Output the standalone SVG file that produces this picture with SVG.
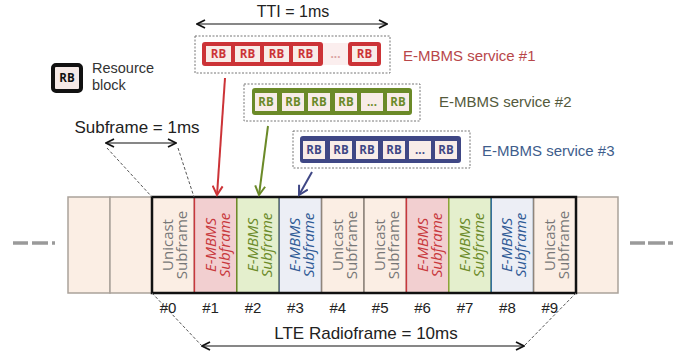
<svg xmlns="http://www.w3.org/2000/svg" width="682" height="356" viewBox="0 0 682 356">
<defs>
<marker id="ah" markerWidth="10" markerHeight="10" refX="9" refY="5" orient="auto-start-reverse" markerUnits="userSpaceOnUse"><path d="M1,1 L9,5 L1,9" fill="none" stroke="#111" stroke-width="1.8"/></marker>
<marker id="ahr" markerWidth="12" markerHeight="12" refX="10" refY="6" orient="auto" markerUnits="userSpaceOnUse"><path d="M1,1 L10,6 L1,11" fill="none" stroke="#cc3337" stroke-width="2"/></marker>
<marker id="ahg" markerWidth="12" markerHeight="12" refX="10" refY="6" orient="auto" markerUnits="userSpaceOnUse"><path d="M1,1 L10,6 L1,11" fill="none" stroke="#6b8a28" stroke-width="2"/></marker>
<marker id="ahb" markerWidth="12" markerHeight="12" refX="10" refY="6" orient="auto" markerUnits="userSpaceOnUse"><path d="M1,1 L10,6 L1,11" fill="none" stroke="#3f4785" stroke-width="2"/></marker>
</defs>
<style>
.t{font-family:"Liberation Sans",Arial,sans-serif;fill:#222}
.os{font-family:"Open Sans","Noto Sans",sans-serif}
.rb{font-family:"Open Sans","Liberation Sans",sans-serif;font-weight:bold;font-size:11.5px;text-anchor:middle}
.cell{fill:#f8ece8}
.dash{fill:none;stroke:#9a9a9a;stroke-width:3.5}
.proj{fill:none;stroke:#555;stroke-width:1;stroke-dasharray:3 2}
.dbox{fill:#fff;stroke:#777;stroke-width:1;stroke-dasharray:2 1.5}
.uc{fill:#fbeee4;stroke:#8f857c;stroke-width:1.5}
.ext{fill:#fbeee4;stroke:#aaa29a;stroke-width:1.5}
.st{font-size:15px;text-anchor:middle}
.lab{font-family:"Liberation Sans",Arial,sans-serif;font-size:15px;fill:#222;text-anchor:middle}
</style>
<rect width="682" height="356" fill="#fff"/>

<g id="legend">
<rect x="53" y="65" width="28" height="26" rx="3" fill="#f5e9e6" stroke="#111" stroke-width="4"/>
<text x="67" y="82" class="rb" fill="#111">RB</text>
<text x="92" y="73" class="t" font-size="14.5" style="fill:#333">Resource</text>
<text x="92" y="90" class="t" font-size="14.5" style="fill:#333">block</text>
</g>

<g id="tti">
<text x="293" y="17" class="t" font-size="16" text-anchor="middle">TTI = 1ms</text>
</g>

<g id="service1">
<rect x="195" y="36" width="195" height="37" class="dbox"/>
<rect x="202" y="42" width="121" height="24" rx="3" fill="#cc3337"/>
<rect x="323" y="43" width="25" height="22" fill="#fbeeee"/>
<rect x="348" y="42" width="33" height="24" rx="3" fill="#cc3337"/>
<g fill="#cc3337">
<rect x="206" y="46" width="25" height="16" class="cell"/><text x="218.5" y="58" class="rb">RB</text>
<rect x="235" y="46" width="25" height="16" class="cell"/><text x="247.5" y="58" class="rb">RB</text>
<rect x="264" y="46" width="25" height="16" class="cell"/><text x="276.5" y="58" class="rb">RB</text>
<rect x="293" y="46" width="25" height="16" class="cell"/><text x="305.5" y="58" class="rb">RB</text>
<text x="335.5" y="58" class="rb" fill="#d9a0a0">...</text>
<rect x="352" y="46" width="25" height="16" class="cell"/><text x="364.5" y="58" class="rb">RB</text>
</g>
<text x="403" y="61" class="t" font-size="15" style="fill:#b8474a">E-MBMS service #1</text>
</g>

<g id="service2">
<rect x="244" y="84" width="176" height="37" class="dbox"/>
<rect x="252" y="88" width="160" height="27" rx="3" fill="#6b8a28"/>
<g fill="#6b8a28">
<rect x="255" y="93" width="22" height="18" class="cell"/><text x="266" y="106" class="rb">RB</text>
<rect x="282" y="93" width="22" height="18" class="cell"/><text x="293" y="106" class="rb">RB</text>
<rect x="308" y="93" width="22" height="18" class="cell"/><text x="319" y="106" class="rb">RB</text>
<rect x="335" y="93" width="22" height="18" class="cell"/><text x="346" y="106" class="rb">RB</text>
<rect x="361" y="93" width="22" height="18" class="cell"/><text x="372" y="106" class="rb">...</text>
<rect x="387" y="93" width="22" height="18" class="cell"/><text x="398" y="106" class="rb">RB</text>
</g>
<text x="439" y="107" class="t" font-size="15" style="fill:#545a3c">E-MBMS service #2</text>
</g>

<g id="service3">
<rect x="293" y="131" width="177" height="37" class="dbox"/>
<rect x="300" y="136" width="161" height="27" rx="3" fill="#3f4785"/>
<g fill="#3f4785">
<rect x="303" y="141" width="22" height="18" class="cell"/><text x="314" y="154" class="rb">RB</text>
<rect x="330" y="141" width="22" height="18" class="cell"/><text x="341" y="154" class="rb">RB</text>
<rect x="356" y="141" width="22" height="18" class="cell"/><text x="367" y="154" class="rb">RB</text>
<rect x="383" y="141" width="22" height="18" class="cell"/><text x="394" y="154" class="rb">RB</text>
<rect x="409" y="141" width="22" height="18" class="cell"/><text x="420" y="154" class="rb">...</text>
<rect x="435" y="141" width="22" height="18" class="cell"/><text x="446" y="154" class="rb">RB</text>
</g>
<text x="482" y="156" class="t" font-size="15" style="fill:#3e5d8c">E-MBMS service #3</text>
</g>

<g id="subframe-label">
<text x="137" y="133" class="t" font-size="17" text-anchor="middle">Subframe = 1ms</text>
</g>

<g id="frame">
<rect x="68" y="197" width="42" height="96" class="ext"/>
<rect x="110" y="197" width="42" height="96" class="ext"/>
<rect x="576" y="197" width="42" height="96" class="ext"/>
<rect x="152" y="197" width="42.4" height="96" class="uc"/>
<rect x="194.4" y="197" width="42.4" height="96" fill="#f2cfd0" stroke="#c8383c" stroke-width="1.5"/>
<rect x="236.8" y="197" width="42.4" height="96" fill="#e4efcd" stroke="#6b8a28" stroke-width="1.5"/>
<rect x="279.2" y="197" width="42.4" height="96" fill="#eceef5" stroke="#5d6d8a" stroke-width="1.5"/>
<rect x="321.6" y="197" width="42.4" height="96" class="uc"/>
<rect x="364" y="197" width="42.4" height="96" class="uc"/>
<rect x="406.4" y="197" width="42.4" height="96" fill="#f2cfd0" stroke="#c8383c" stroke-width="1.5"/>
<rect x="448.8" y="197" width="42.4" height="96" fill="#e4efcd" stroke="#8aa838" stroke-width="1.5"/>
<rect x="491.2" y="197" width="42.4" height="96" fill="#eceef5" stroke="#2a6a9a" stroke-width="1.5"/>
<rect x="533.6" y="197" width="42.4" height="96" class="uc"/>
<rect x="152" y="197" width="424" height="96" fill="none" stroke="#111" stroke-width="2.5"/>
</g>

<g id="cell-texts" class="os">
<g transform="translate(173.2,245) rotate(-90)" fill="#777"><text class="st" y="0">Unicast</text><text class="st" y="14">Subframe</text></g>
<g transform="translate(215.6,245) rotate(-90)" fill="#c8383c" font-style="italic"><text class="st" y="0">E-MBMS</text><text class="st" y="14">Subframe</text></g>
<g transform="translate(258,245) rotate(-90)" fill="#6b8a28" font-style="italic"><text class="st" y="0">E-MBMS</text><text class="st" y="14">Subframe</text></g>
<g transform="translate(300.4,245) rotate(-90)" fill="#2f5a95" font-style="italic"><text class="st" y="0">E-MBMS</text><text class="st" y="14">Subframe</text></g>
<g transform="translate(342.8,245) rotate(-90)" fill="#777"><text class="st" y="0">Unicast</text><text class="st" y="14">Subframe</text></g>
<g transform="translate(385.2,245) rotate(-90)" fill="#777"><text class="st" y="0">Unicast</text><text class="st" y="14">Subframe</text></g>
<g transform="translate(427.6,245) rotate(-90)" fill="#c8383c" font-style="italic"><text class="st" y="0">E-MBMS</text><text class="st" y="14">Subframe</text></g>
<g transform="translate(470,245) rotate(-90)" fill="#6b8a28" font-style="italic"><text class="st" y="0">E-MBMS</text><text class="st" y="14">Subframe</text></g>
<g transform="translate(512.4,245) rotate(-90)" fill="#2f5a95" font-style="italic"><text class="st" y="0">E-MBMS</text><text class="st" y="14">Subframe</text></g>
<g transform="translate(554.8,245) rotate(-90)" fill="#777"><text class="st" y="0">Unicast</text><text class="st" y="14">Subframe</text></g>
</g>

<g id="indices">
<text x="168" y="313" class="lab">#0</text>
<text x="210.6" y="313" class="lab">#1</text>
<text x="253" y="313" class="lab">#2</text>
<text x="295.4" y="313" class="lab">#3</text>
<text x="337.8" y="313" class="lab">#4</text>
<text x="380.2" y="313" class="lab">#5</text>
<text x="422.6" y="313" class="lab">#6</text>
<text x="465" y="313" class="lab">#7</text>
<text x="507.4" y="313" class="lab">#8</text>
<text x="549.8" y="313" class="lab">#9</text>
</g>

<g id="radioframe-label">
<text x="366" y="339" class="t" font-size="17" text-anchor="middle">LTE Radioframe = 10ms</text>
</g>

<g id="continuation">
<path class="dash" d="M13,243 H28 M32,243 H48 M52,243 H55"/>
<path class="dash" d="M630,243 H645 M648,243 H665 M668,243 H673"/>
</g>

<g id="connectors">
<path d="M197,24 H387" fill="none" stroke="#111" stroke-width="1.2" marker-start="url(#ah)" marker-end="url(#ah)"/>
<path d="M106,143 H176" fill="none" stroke="#111" stroke-width="1.2" marker-start="url(#ah)" marker-end="url(#ah)"/>
<path d="M202,346 H524" fill="none" stroke="#111" stroke-width="1.2" marker-start="url(#ah)" marker-end="url(#ah)"/>
<path class="proj" d="M107,148 L152,197"/>
<path class="proj" d="M178,148 L194,197"/>
<path class="proj" d="M152,293 L202,346"/>
<path class="proj" d="M576,293 L524,346"/>
<path d="M225,78 L217,195" fill="none" stroke="#cc3337" stroke-width="2" marker-end="url(#ahr)"/>
<path d="M268,126 L259,195" fill="none" stroke="#6b8a28" stroke-width="2" marker-end="url(#ahg)"/>
<path d="M312,172 L299,195" fill="none" stroke="#3f4785" stroke-width="2" marker-end="url(#ahb)"/>
</g>
</svg>
